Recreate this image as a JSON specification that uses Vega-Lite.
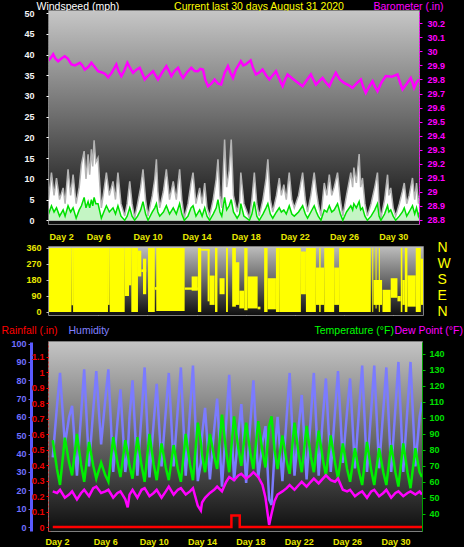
{
"$schema":"https://vega.github.io/schema/vega-lite/v6.json",
"background":"black",
"padding":0,
"spacing":4,
"config":{
 "view":{"stroke":"#a8a8a8","strokeWidth":1.5},
 "font":"Liberation Sans",
 "axis":{"labelFont":"Liberation Sans","titleFont":"Liberation Sans","labelFontSize":9,"labelFontWeight":"bold","titleFontSize":10.5,"titleFontWeight":"normal","tickSize":3,"labelPadding":2,"gridDash":[1,2],"gridColor":"#e6e6e6","gridOpacity":0.4,"titleAngle":0,"titleBaseline":"alphabetic","titleAlign":"left"}
},
"datasets":{
 "wind":[
{"d":1.7,"g":6,"a":2},{"d":1.78,"g":9,"a":3},{"d":1.95,"g":5,"a":1.5},{"d":2.19,"g":11.5,"a":3.5},{"d":2.4,"g":6,"a":2},{"d":2.6,"g":10.2,"a":3},{"d":2.85,"g":5,"a":1},{"d":3.14,"g":7.8,"a":2.5},{"d":3.3,"g":4,"a":1},{"d":3.54,"g":12.3,"a":3.5},{"d":3.75,"g":6,"a":2},{"d":3.95,"g":11,"a":3},{"d":4.2,"g":4,"a":0.5},{"d":4.45,"g":8,"a":2.5},{"d":4.63,"g":13.5,"a":3.5},{"d":4.85,"g":16.7,"a":5.5},{"d":5.0,"g":10,"a":3},{"d":5.17,"g":15.9,"a":4.5},{"d":5.3,"g":11,"a":3},{"d":5.44,"g":17.1,"a":5},{"d":5.55,"g":13,"a":3.5},{"d":5.66,"g":19.3,"a":5.5},{"d":5.8,"g":14,"a":4},{"d":5.98,"g":15.1,"a":4},{"d":6.25,"g":3,"a":0.5},{"d":6.45,"g":7,"a":2},{"d":6.66,"g":11.5,"a":3.5},{"d":6.9,"g":6,"a":2},{"d":7.2,"g":9.4,"a":3},{"d":7.4,"g":5,"a":1.5},{"d":7.6,"g":11.5,"a":3.5},{"d":7.85,"g":4,"a":1},{"d":8.15,"g":1,"a":0},{"d":8.35,"g":4,"a":1},{"d":8.56,"g":9.4,"a":3},{"d":8.75,"g":4,"a":1},{"d":8.96,"g":0.5,"a":0},{"d":9.2,"g":4,"a":1},{"d":9.45,"g":8,"a":2.5},{"d":9.64,"g":12.3,"a":4.5},{"d":9.85,"g":5,"a":1.5},{"d":10.05,"g":1,"a":0},{"d":10.4,"g":6,"a":2},{"d":10.6,"g":10,"a":3},{"d":10.73,"g":14.7,"a":4},{"d":10.85,"g":7,"a":2},{"d":11.0,"g":3,"a":1},{"d":11.3,"g":7,"a":2},{"d":11.54,"g":12.3,"a":3.5},{"d":11.8,"g":5,"a":1.5},{"d":12.1,"g":9.4,"a":3},{"d":12.35,"g":5,"a":1.5},{"d":12.62,"g":12.3,"a":4},{"d":12.8,"g":5,"a":1.5},{"d":13.0,"g":0.5,"a":0},{"d":13.3,"g":4,"a":1},{"d":13.55,"g":9,"a":3},{"d":13.71,"g":11.5,"a":3.5},{"d":13.95,"g":4,"a":1},{"d":14.25,"g":7.8,"a":2.5},{"d":14.45,"g":4,"a":1},{"d":14.66,"g":9,"a":3},{"d":14.85,"g":3,"a":1},{"d":15.06,"g":1,"a":0},{"d":15.35,"g":5,"a":1.5},{"d":15.6,"g":10,"a":3},{"d":15.74,"g":14.7,"a":5},{"d":15.9,"g":6,"a":2},{"d":16.05,"g":3,"a":1},{"d":16.28,"g":19.5,"a":5.5},{"d":16.45,"g":8,"a":2.5},{"d":16.65,"g":12,"a":3.5},{"d":16.82,"g":19.5,"a":5},{"d":17.0,"g":6,"a":2},{"d":17.3,"g":2,"a":0.5},{"d":17.5,"g":4.6,"a":1.5},{"d":17.6,"g":11.5,"a":4},{"d":17.85,"g":4,"a":1},{"d":18.3,"g":0.5,"a":0},{"d":18.5,"g":5,"a":1.5},{"d":18.7,"g":11.5,"a":4.5},{"d":18.9,"g":4,"a":1},{"d":19.1,"g":1,"a":0},{"d":19.4,"g":5,"a":1.5},{"d":19.65,"g":10,"a":3},{"d":19.8,"g":14.7,"a":4},{"d":20.0,"g":5,"a":1.5},{"d":20.2,"g":2,"a":0.5},{"d":20.5,"g":6,"a":2},{"d":20.73,"g":10.2,"a":3},{"d":20.9,"g":6,"a":2},{"d":21.1,"g":8.6,"a":2.5},{"d":21.3,"g":5,"a":1.5},{"d":21.54,"g":11.5,"a":3.5},{"d":21.75,"g":5,"a":1.5},{"d":21.95,"g":3,"a":1},{"d":22.3,"g":6,"a":2},{"d":22.63,"g":11.5,"a":3.5},{"d":22.85,"g":5,"a":1.5},{"d":23.03,"g":2,"a":0.5},{"d":23.3,"g":6,"a":2},{"d":23.57,"g":11.5,"a":3.5},{"d":23.75,"g":7,"a":2},{"d":23.9,"g":4,"a":1},{"d":24.12,"g":1,"a":0},{"d":24.39,"g":9,"a":2.5},{"d":24.6,"g":6,"a":2},{"d":24.8,"g":11,"a":3.5},{"d":25.0,"g":6,"a":2},{"d":25.2,"g":8,"a":2.5},{"d":25.47,"g":11.5,"a":4},{"d":25.7,"g":5,"a":1.5},{"d":25.9,"g":1,"a":0},{"d":26.2,"g":6,"a":2},{"d":26.55,"g":11.5,"a":3.5},{"d":26.7,"g":8,"a":2.5},{"d":26.8,"g":12.7,"a":4},{"d":27.0,"g":9,"a":3},{"d":27.23,"g":16,"a":4.5},{"d":27.35,"g":8,"a":2.5},{"d":27.5,"g":10.2,"a":3},{"d":27.7,"g":4,"a":1},{"d":27.9,"g":1,"a":0},{"d":28.2,"g":4,"a":1},{"d":28.5,"g":8,"a":2.5},{"d":28.72,"g":11.5,"a":4},{"d":28.85,"g":4,"a":1},{"d":29.0,"g":0.5,"a":0},{"d":29.3,"g":5,"a":1.5},{"d":29.54,"g":11,"a":3.5},{"d":29.65,"g":6,"a":2},{"d":29.8,"g":7.8,"a":2.5},{"d":30.0,"g":3,"a":1},{"d":30.2,"g":1,"a":0},{"d":30.5,"g":4,"a":1},{"d":30.75,"g":7,"a":2},{"d":30.9,"g":9,"a":3},{"d":31.1,"g":4,"a":1},{"d":31.3,"g":6,"a":2},{"d":31.57,"g":10.2,"a":3.5},{"d":31.75,"g":5,"a":1.5},{"d":31.9,"g":9,"a":3},{"d":32.05,"g":4,"a":1},{"d":32.15,"g":6,"a":2}
 ],
 "baro":[
{"d":1.7,"p":29.9},{"d":1.9,"p":29.93},{"d":2.1,"p":29.95},{"d":2.33,"p":29.98},{"d":2.5,"p":29.95},{"d":2.73,"p":29.93},{"d":3.0,"p":29.95},{"d":3.27,"p":29.966},{"d":3.5,"p":29.95},{"d":3.82,"p":29.907},{"d":4.1,"p":29.9},{"d":4.5,"p":29.919},{"d":4.7,"p":29.9},{"d":4.9,"p":29.87},{"d":5.2,"p":29.89},{"d":5.44,"p":29.919},{"d":5.7,"p":29.89},{"d":5.98,"p":29.859},{"d":6.3,"p":29.85},{"d":6.55,"p":29.84},{"d":6.8,"p":29.816},{"d":7.1,"p":29.85},{"d":7.47,"p":29.907},{"d":7.65,"p":29.86},{"d":7.88,"p":29.824},{"d":8.1,"p":29.86},{"d":8.37,"p":29.919},{"d":8.6,"p":29.88},{"d":8.83,"p":29.847},{"d":9.1,"p":29.87},{"d":9.37,"p":29.883},{"d":9.55,"p":29.85},{"d":9.78,"p":29.8},{"d":10.1,"p":29.83},{"d":10.46,"p":29.859},{"d":10.65,"p":29.83},{"d":10.86,"p":29.8},{"d":11.2,"p":29.85},{"d":11.54,"p":29.895},{"d":11.75,"p":29.86},{"d":11.95,"p":29.824},{"d":12.2,"p":29.86},{"d":12.49,"p":29.883},{"d":12.7,"p":29.84},{"d":12.9,"p":29.811},{"d":13.2,"p":29.85},{"d":13.57,"p":29.883},{"d":13.85,"p":29.86},{"d":14.11,"p":29.859},{"d":14.3,"p":29.875},{"d":14.52,"p":29.871},{"d":14.7,"p":29.8},{"d":14.93,"p":29.752},{"d":15.2,"p":29.77},{"d":15.47,"p":29.8},{"d":15.75,"p":29.77},{"d":16.0,"p":29.764},{"d":16.3,"p":29.85},{"d":16.55,"p":29.895},{"d":16.75,"p":29.85},{"d":16.96,"p":29.811},{"d":17.2,"p":29.871},{"d":17.6,"p":29.93},{"d":17.8,"p":29.9},{"d":18.0,"p":29.907},{"d":18.4,"p":29.936},{"d":18.6,"p":29.88},{"d":18.83,"p":29.836},{"d":19.1,"p":29.85},{"d":19.37,"p":29.871},{"d":19.65,"p":29.83},{"d":19.92,"p":29.8},{"d":20.2,"p":29.83},{"d":20.46,"p":29.859},{"d":20.75,"p":29.8},{"d":21.0,"p":29.752},{"d":21.2,"p":29.8},{"d":21.4,"p":29.836},{"d":21.75,"p":29.81},{"d":22.08,"p":29.788},{"d":22.35,"p":29.77},{"d":22.63,"p":29.752},{"d":23.0,"p":29.8},{"d":23.3,"p":29.836},{"d":23.5,"p":29.8},{"d":23.71,"p":29.764},{"d":24.0,"p":29.79},{"d":24.25,"p":29.811},{"d":24.5,"p":29.78},{"d":24.8,"p":29.752},{"d":25.05,"p":29.8},{"d":25.33,"p":29.847},{"d":25.65,"p":29.8},{"d":26.0,"p":29.776},{"d":26.35,"p":29.76},{"d":26.69,"p":29.74},{"d":27.0,"p":29.77},{"d":27.37,"p":29.8},{"d":27.55,"p":29.75},{"d":27.77,"p":29.704},{"d":28.05,"p":29.75},{"d":28.32,"p":29.788},{"d":28.5,"p":29.75},{"d":28.72,"p":29.716},{"d":29.05,"p":29.78},{"d":29.4,"p":29.824},{"d":29.9,"p":29.82},{"d":30.35,"p":29.836},{"d":30.55,"p":29.78},{"d":30.76,"p":29.729},{"d":31.1,"p":29.77},{"d":31.43,"p":29.811},{"d":31.6,"p":29.77},{"d":31.7,"p":29.74},{"d":31.9,"p":29.78},{"d":32.1,"p":29.8}
 ],
 "dir":[
{"d0":1.99,"d1":3.81,"lo":0,"hi":360},{"d0":3.81,"d1":3.95,"lo":38,"hi":360},{"d0":3.95,"d1":6.79,"lo":0,"hi":360},{"d0":6.79,"d1":6.93,"lo":40,"hi":360},{"d0":6.93,"d1":8.15,"lo":0,"hi":360},{"d0":8.15,"d1":8.5,"lo":90,"hi":360},{"d0":8.5,"d1":8.69,"lo":150,"hi":360},{"d0":8.69,"d1":9.23,"lo":0,"hi":360},{"d0":9.23,"d1":9.5,"lo":200,"hi":345},{"d0":9.5,"d1":9.9,"lo":225,"hi":240},{"d0":9.64,"d1":9.9,"lo":100,"hi":300},{"d0":10.05,"d1":10.6,"lo":0,"hi":360},{"d0":10.6,"d1":10.86,"lo":125,"hi":140},{"d0":10.72,"d1":13.03,"lo":5,"hi":360},{"d0":13.03,"d1":14.1,"lo":125,"hi":138},{"d0":13.6,"d1":14.1,"lo":120,"hi":200},{"d0":14.11,"d1":14.38,"lo":0,"hi":360},{"d0":14.38,"d1":15.06,"lo":345,"hi":355},{"d0":14.9,"d1":15.06,"lo":60,"hi":350},{"d0":15.06,"d1":15.47,"lo":40,"hi":205},{"d0":15.5,"d1":15.7,"lo":0,"hi":360},{"d0":15.87,"d1":16.28,"lo":100,"hi":190},{"d0":16.4,"d1":16.55,"lo":0,"hi":360},{"d0":16.9,"d1":17.2,"lo":30,"hi":360},{"d0":17.07,"d1":17.48,"lo":40,"hi":280},{"d0":17.48,"d1":17.88,"lo":20,"hi":120},{"d0":17.88,"d1":18.15,"lo":10,"hi":360},{"d0":18.15,"d1":18.97,"lo":20,"hi":200},{"d0":18.97,"d1":19.2,"lo":15,"hi":30},{"d0":19.5,"d1":19.78,"lo":0,"hi":360},{"d0":19.78,"d1":20.46,"lo":15,"hi":190},{"d0":20.46,"d1":20.73,"lo":0,"hi":360},{"d0":20.73,"d1":22.49,"lo":0,"hi":360},{"d0":22.49,"d1":22.9,"lo":100,"hi":340},{"d0":22.9,"d1":23.71,"lo":0,"hi":360},{"d0":23.71,"d1":24.39,"lo":40,"hi":250},{"d0":23.98,"d1":24.1,"lo":0,"hi":360},{"d0":24.39,"d1":25.2,"lo":0,"hi":360},{"d0":25.2,"d1":25.6,"lo":40,"hi":250},{"d0":25.6,"d1":28.18,"lo":0,"hi":360},{"d0":28.3,"d1":28.38,"lo":0,"hi":360},{"d0":28.57,"d1":28.65,"lo":20,"hi":360},{"d0":28.83,"d1":28.92,"lo":0,"hi":360},{"d0":28.4,"d1":29.1,"lo":40,"hi":180},{"d0":29.13,"d1":29.8,"lo":0,"hi":125},{"d0":29.8,"d1":30.35,"lo":80,"hi":190},{"d0":30.35,"d1":30.62,"lo":60,"hi":90},{"d0":30.62,"d1":30.75,"lo":0,"hi":360},{"d0":30.75,"d1":30.95,"lo":40,"hi":180},{"d0":30.95,"d1":31.16,"lo":0,"hi":360},{"d0":31.16,"d1":31.84,"lo":30,"hi":206},{"d0":31.84,"d1":32.25,"lo":0,"hi":360},{"d0":32.25,"d1":32.43,"lo":40,"hi":300}
 ],
 "th":[
{"d":1.65,"h":38,"t":86,"dp":54},{"d":2.0,"h":66,"t":68,"dp":53},{"d":2.25,"h":84,"t":58,"dp":55},{"d":2.65,"h":45,"t":87.6,"dp":50},{"d":3.0,"h":60,"t":72,"dp":52},{"d":3.25,"h":66,"t":64,"dp":54},{"d":3.65,"h":28,"t":90,"dp":49},{"d":4.0,"h":62,"t":70.5,"dp":53},{"d":4.25,"h":86,"t":60,"dp":55},{"d":4.65,"h":33,"t":85,"dp":51},{"d":5.0,"h":64,"t":70,"dp":56},{"d":5.25,"h":85,"t":62,"dp":57},{"d":5.65,"h":45,"t":72,"dp":53},{"d":6.0,"h":70,"t":64,"dp":54},{"d":6.25,"h":86,"t":60,"dp":55},{"d":6.65,"h":30,"t":88,"dp":50},{"d":7.0,"h":57,"t":72,"dp":53},{"d":7.25,"h":75,"t":63,"dp":54},{"d":7.65,"h":30,"t":86,"dp":49},{"d":7.85,"h":40,"t":78,"dp":44},{"d":8.0,"h":60,"t":70,"dp":52},{"d":8.25,"h":80,"t":62,"dp":55},{"d":8.65,"h":28,"t":88,"dp":50},{"d":9.0,"h":62,"t":70,"dp":55},{"d":9.25,"h":87,"t":60,"dp":56},{"d":9.65,"h":27,"t":90,"dp":51},{"d":10.0,"h":57,"t":71,"dp":53},{"d":10.25,"h":78,"t":61,"dp":55},{"d":10.65,"h":33,"t":84,"dp":50},{"d":11.0,"h":63,"t":69,"dp":54},{"d":11.25,"h":84,"t":61,"dp":57},{"d":11.65,"h":33,"t":83,"dp":52},{"d":12.0,"h":65,"t":68,"dp":55},{"d":12.25,"h":87,"t":60,"dp":56},{"d":12.65,"h":28,"t":90,"dp":52},{"d":13.0,"h":63,"t":71,"dp":54},{"d":13.25,"h":88,"t":61,"dp":56},{"d":13.65,"h":25,"t":97,"dp":45},{"d":13.9,"h":35,"t":85,"dp":42},{"d":14.0,"h":50,"t":77,"dp":47},{"d":14.25,"h":65,"t":66,"dp":50},{"d":14.65,"h":26,"t":90,"dp":53},{"d":15.0,"h":53,"t":76,"dp":55},{"d":15.25,"h":70,"t":68,"dp":57},{"d":15.65,"h":22,"t":102,"dp":54},{"d":16.0,"h":57,"t":79,"dp":60},{"d":16.25,"h":83,"t":66,"dp":63},{"d":16.65,"h":25,"t":101,"dp":61},{"d":17.0,"h":51,"t":81,"dp":64},{"d":17.25,"h":67,"t":70,"dp":65},{"d":17.65,"h":24,"t":97,"dp":62},{"d":18.0,"h":57,"t":78,"dp":64},{"d":18.25,"h":80,"t":68,"dp":66},{"d":18.65,"h":27,"t":98,"dp":63},{"d":19.0,"h":46,"t":79,"dp":58},{"d":19.25,"h":55,"t":69,"dp":50},{"d":19.55,"h":15,"t":95,"dp":33},{"d":19.75,"h":12,"t":101,"dp":40},{"d":20.0,"h":41,"t":80,"dp":48},{"d":20.25,"h":60,"t":68,"dp":52},{"d":20.65,"h":25,"t":89,"dp":54},{"d":21.0,"h":60,"t":73,"dp":56},{"d":21.25,"h":84,"t":65,"dp":58},{"d":21.65,"h":28,"t":97,"dp":55},{"d":22.0,"h":55,"t":77,"dp":58},{"d":22.25,"h":72,"t":66,"dp":60},{"d":22.65,"h":26,"t":95,"dp":57},{"d":23.0,"h":60,"t":76,"dp":60},{"d":23.25,"h":84,"t":66,"dp":62},{"d":23.65,"h":28,"t":92,"dp":59},{"d":24.0,"h":60,"t":74,"dp":62},{"d":24.25,"h":81,"t":64,"dp":64},{"d":24.65,"h":30,"t":89,"dp":61},{"d":25.0,"h":63,"t":72,"dp":60},{"d":25.25,"h":85,"t":62,"dp":62},{"d":25.65,"h":35,"t":84,"dp":55},{"d":26.0,"h":63,"t":68,"dp":54},{"d":26.25,"h":81,"t":60,"dp":55},{"d":26.65,"h":32,"t":81,"dp":51},{"d":27.0,"h":65,"t":66,"dp":53},{"d":27.25,"h":88,"t":58,"dp":54},{"d":27.65,"h":30,"t":85,"dp":50},{"d":28.0,"h":64,"t":67,"dp":54},{"d":28.25,"h":88,"t":58,"dp":55},{"d":28.65,"h":32,"t":81,"dp":51},{"d":29.0,"h":64,"t":66,"dp":53},{"d":29.25,"h":87,"t":58,"dp":55},{"d":29.65,"h":30,"t":83,"dp":50},{"d":30.0,"h":65,"t":66,"dp":53},{"d":30.25,"h":90,"t":57,"dp":54},{"d":30.65,"h":30,"t":84,"dp":51},{"d":31.0,"h":65,"t":66,"dp":53},{"d":31.25,"h":90,"t":56,"dp":54},{"d":31.65,"h":33,"t":81,"dp":52},{"d":32.0,"h":60,"t":66,"dp":54},{"d":32.2,"h":68,"t":63,"dp":52}
 ],
 "rain":[
{"d":1.65,"r":0},{"d":16.43,"r":0.075},{"d":17.12,"r":0},{"d":32.2,"r":0}
 ]
},
"vconcat":[
 {
  "width":370,"height":213,
  "layer":[
   {"data":{"values":[{}]},"mark":{"type":"rect","color":{"gradient":"linear","x1":0,"y1":0,"x2":0,"y2":1,"stops":[{"offset":0,"color":"#c6c6c6"},{"offset":0.5,"color":"#6c6c6c"},{"offset":1,"color":"#0e0e0e"}]}},"encoding":{}},
   {"data":{"name":"wind"},"mark":{"type":"area","fill":"#ffffff","stroke":"#b4b4b4","strokeWidth":1.5,"clip":true},
    "encoding":{
     "x":{"field":"d","type":"quantitative","scale":{"domain":[1.99,32.1],"nice":false,"zero":false},"axis":{"values":[2,6,10,14,18,22,26,30],"labels":false,"ticks":false,"domain":false,"grid":true,"title":null}},
     "y":{"field":"g","type":"quantitative","scale":{"domain":[-0.9,50.5],"nice":false,"zero":false},"axis":{"values":[0,5,10,15,20,25,30,35,40,45,50],"labelColor":"#f4f4f4","tickColor":"#ffffff","labelPadding":12,"domainColor":"#8c8c8c","domainDash":[2,1],"domainWidth":2,"grid":true,"title":"Windspeed (mph)","titleColor":"#ffffff","titleX":-13,"titleY":-1.5}}
    }},
   {"data":{"name":"wind"},"mark":{"type":"area","color":"#c4f5c4","clip":true},
    "encoding":{
     "x":{"field":"d","type":"quantitative","scale":{"domain":[1.99,32.1],"nice":false,"zero":false},"axis":null},
     "y":{"field":"a","type":"quantitative","scale":{"domain":[-0.9,50.5],"nice":false,"zero":false},"axis":null}
    }},
   {"data":{"name":"wind"},"mark":{"type":"line","color":"#00e000","strokeWidth":1.5,"clip":true},
    "encoding":{
     "x":{"field":"d","type":"quantitative","scale":{"domain":[1.99,32.1],"nice":false,"zero":false},"axis":null},
     "y":{"field":"a","type":"quantitative","scale":{"domain":[-0.9,50.5],"nice":false,"zero":false},"axis":null}
    }},
   {"data":{"name":"baro"},"mark":{"type":"line","color":"#ff00ff","strokeWidth":2.5,"clip":true},
    "encoding":{
     "x":{"field":"d","type":"quantitative","scale":{"domain":[1.99,32.1],"nice":false,"zero":false},"axis":{"orient":"top","labels":false,"ticks":false,"domain":false,"grid":false,"title":"Current last 30 days August 31 2020","titleColor":"#ffff00","titleX":209.5,"titleY":-1.5,"titleAlign":"center"}},
     "y":{"field":"p","type":"quantitative","scale":{"domain":[28.77,30.288],"nice":false,"zero":false},"axis":{"orient":"right","values":[28.8,28.9,29,29.1,29.2,29.3,29.4,29.5,29.6,29.7,29.8,29.9,30,30.1,30.2],"format":"~g","labelColor":"#ff00ff","tickColor":"#ff00ff","domainColor":"#ff00ff","domainDash":[2,1],"labelPadding":5,"grid":false,"title":"Barometer (.in)","titleColor":"#ff00ff","titleX":-46,"titleY":-1.5}}
    }}
  ],
  "resolve":{"scale":{"y":"independent"},"axis":{"x":"independent","y":"independent"}}
 },
 {
  "width":374,"height":68,
  "layer":[
   {"data":{"values":[{}]},"mark":{"type":"rect","color":{"gradient":"linear","x1":0,"y1":0,"x2":0,"y2":1,"stops":[{"offset":0,"color":"#bcbcbc"},{"offset":1,"color":"#101010"}]}},"encoding":{}},
   {"data":{"name":"dir"},"mark":{"type":"rect","color":"#ffff00","clip":true},
    "encoding":{
     "x":{"field":"d0","type":"quantitative","scale":{"domain":[1.99,32.43],"nice":false,"zero":false},"axis":{"orient":"top","values":[2,6,10,14,18,22,26,30],"labelExpr":"'Day ' + datum.value","labelColor":"#e8e800","ticks":false,"tickSize":0,"labelPadding":6,"domain":false,"grid":true,"title":null}},
     "x2":{"field":"d1"},
     "y":{"field":"lo","type":"quantitative","scale":{"domain":[-16.9,365.6],"nice":false,"zero":false},"axis":{"values":[0,90,180,270,360],"labelColor":"#e8e800","tickColor":"#c0c0c0","labelPadding":5,"domainColor":"#8c8c8c","grid":true,"title":null}},
     "y2":{"field":"hi"}
    }},
   {"data":{"name":"dir"},"mark":{"type":"rect","opacity":0},
    "encoding":{
     "x":{"field":"d0","type":"quantitative","scale":{"domain":[1.99,32.43],"nice":false,"zero":false},"axis":null},
     "x2":{"field":"d1"},
     "y":{"field":"lo","type":"quantitative","scale":{"domain":[-16.9,365.6],"nice":false,"zero":false},"axis":{"orient":"right","values":[0,90,180,270,360],"labelExpr":"datum.value==360?'N':datum.value==270?'W':datum.value==180?'S':datum.value==90?'E':'N'","labelFontSize":14,"labelFontWeight":"normal","labelColor":"#ffff00","ticks":false,"tickSize":0,"domain":false,"grid":false,"labelPadding":14,"title":null}},
     "y2":{"field":"hi"}
    }}
  ],
  "resolve":{"axis":{"x":"independent","y":"independent"}}
 },
 {
  "width":373,"height":189,
  "layer":[
   {"data":{"values":[{}]},"mark":{"type":"rect","color":{"gradient":"linear","x1":0,"y1":0,"x2":0,"y2":1,"stops":[{"offset":0,"color":"#c4c4c4"},{"offset":0.5,"color":"#6a6a6a"},{"offset":1,"color":"#0e0e0e"}]}},"encoding":{}},
   {"data":{"name":"th"},"mark":{"type":"line","color":"#7b7bff","strokeWidth":2.5,"clip":true},
    "encoding":{
     "x":{"field":"d","type":"quantitative","scale":{"domain":[1.338,32.2],"nice":false,"zero":false},"axis":{"values":[2,6,10,14,18,22,26,30],"labelExpr":"'Day ' + datum.value","labelColor":"#e8e800","ticks":false,"tickSize":0,"labelPadding":6,"domain":false,"grid":true,"title":null}},
     "y":{"field":"h","type":"quantitative","scale":{"domain":[-2.18,100.87],"nice":false,"zero":false},"axis":{"offset":18,"values":[0,10,20,30,40,50,60,70,80,90,100],"labelColor":"#7070ff","tickColor":"#6060ff","domainColor":"#5a5aff","domainWidth":3,"grid":false,"title":"Humidity","titleColor":"#8080ff","titleX":37,"titleY":-9}}
    }},
   {"data":{"name":"th"},"mark":{"type":"line","color":"#00ee00","strokeWidth":2.5,"clip":true},
    "encoding":{
     "x":{"field":"d","type":"quantitative","scale":{"domain":[1.338,32.2],"nice":false,"zero":false},"axis":null},
     "y":{"field":"t","type":"quantitative","scale":{"domain":[29.2,147.5],"nice":false,"zero":false},"axis":{"orient":"right","values":[40,50,60,70,80,90,100,110,120,130,140],"labelColor":"#00e000","tickColor":"#00c000","domainColor":"#00a000","labelPadding":4,"grid":false,"title":"Temperature (°F)","titleColor":"#00ff00","titleX":-108,"titleY":-9}}
    }},
   {"data":{"name":"th"},"mark":{"type":"line","color":"#ff00ff","strokeWidth":2.5,"clip":true},
    "encoding":{
     "x":{"field":"d","type":"quantitative","scale":{"domain":[1.338,32.2],"nice":false,"zero":false},"axis":null},
     "y":{"field":"dp","type":"quantitative","scale":{"domain":[29.2,147.5],"nice":false,"zero":false},"axis":{"orient":"right","labels":false,"ticks":false,"domain":false,"grid":false,"title":"Dew Point (°F)","titleColor":"#ff00ff","titleX":-28,"titleY":-9}}
    }},
   {"data":{"name":"rain"},"mark":{"type":"line","color":"#ff0000","strokeWidth":2.5,"interpolate":"step-after","clip":true},
    "encoding":{
     "x":{"field":"d","type":"quantitative","scale":{"domain":[1.338,32.2],"nice":false,"zero":false},"axis":null},
     "y":{"field":"r","type":"quantitative","scale":{"domain":[-0.0258,1.1955],"nice":false,"zero":false},"axis":{"values":[0,0.1,0.2,0.3,0.4,0.5,0.6,0.7,0.8,0.9,1,1.1],"format":"~g","labelColor":"#ee0000","tickColor":"#ff0000","domainColor":"#ff0000","domainDash":[2,2],"domainWidth":2,"grid":true,"title":"Rainfall (.in)","titleColor":"#ff0000","titleX":-48,"titleY":-9}}
    }}
  ],
  "resolve":{"scale":{"y":"independent"},"axis":{"x":"independent","y":"independent"}}
 }
]
}
